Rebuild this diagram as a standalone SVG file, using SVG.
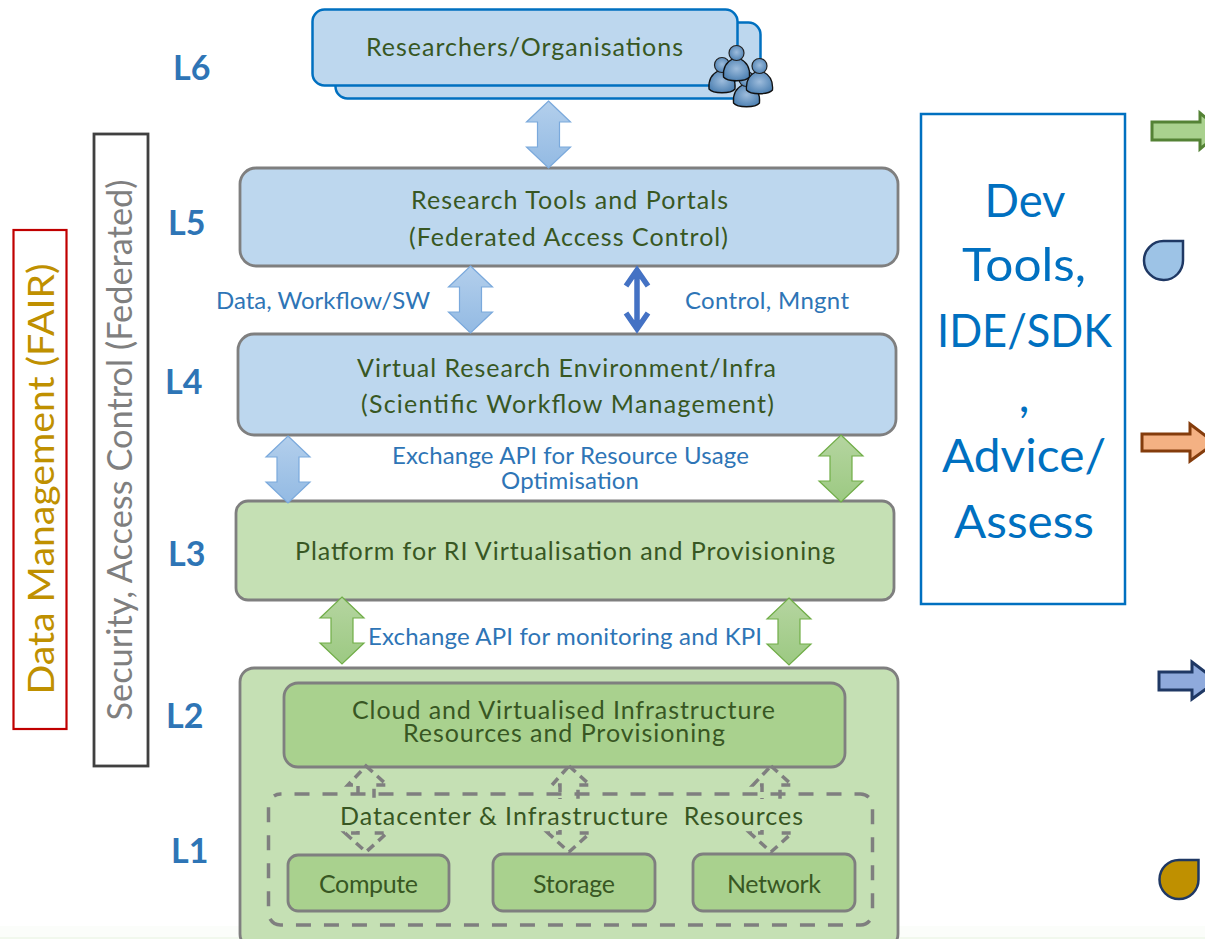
<svg xmlns="http://www.w3.org/2000/svg" xmlns:xlink="http://www.w3.org/1999/xlink" width="1205" height="939" viewBox="0 0 1205 939">
<style>
text{font-family:"Lato","Liberation Sans",sans-serif}
.box{stroke:#7f7f7f;stroke-width:2.800}
.blue{fill:#bdd7ee}.lgreen{fill:#c5e0b4}.green{fill:#a9d18e}
.t{font-size:25px;fill:#385723;text-anchor:middle}
.b{font-size:24px;fill:#2e75b6;text-anchor:middle}
.l{font-size:34px;font-weight:bold;fill:#2e75b6}
.dev{font-size:47px;fill:#0070c0;text-anchor:middle}
.dash{fill:none;stroke:#7f7f7f;stroke-width:3.500;stroke-dasharray:9 6}
.dashbox{fill:none;stroke:#7f7f7f;stroke-width:3.500;stroke-dasharray:15 13;stroke-dashoffset:14}
</style>
<defs>
<linearGradient id="gb" x1="0" y1="0" x2="0" y2="1"><stop offset="0" stop-color="#b3cfec"/><stop offset="1" stop-color="#93bae3"/></linearGradient>
<linearGradient id="gg" x1="0" y1="0" x2="0" y2="1"><stop offset="0" stop-color="#b5d5a0"/><stop offset="1" stop-color="#9cc982"/></linearGradient>
<radialGradient id="gp" cx="0.5" cy="0.45" r="0.6"><stop offset="0" stop-color="#9dbcdc"/><stop offset="1" stop-color="#4a7eb0"/></radialGradient>
<polygon id="dbl" points="0,0 22,21 11,21 11,46 22,46 0,67 -22,46 -11,46 -11,21 -22,21"/>
<g id="person">
<path d="M-13,24C-14,13-8,8-4,6L4,6C8,8 14,13 13,24C9,29-9,29-13,24Z" fill="url(#gp)" stroke="#111" stroke-width="1.300"/>
<circle r="7.500" fill="url(#gp)" stroke="#222" stroke-width="1.200"/>
</g>
</defs>
<rect width="1205" height="939" fill="#fff"/>
<rect y="926" width="1205" height="11" fill="#fbfdfa"/><rect y="937" width="1205" height="2" fill="#f1f8ed"/>
<g id="fair"><rect x="13.500" y="230" width="53" height="499" fill="#fff" stroke="#c00000" stroke-width="2.200"/>
<text transform="translate(54 479) rotate(-90)" text-anchor="middle" textLength="431" lengthAdjust="spacingAndGlyphs" style="font-size:36px;fill:#bf9000">Data Management (FAIR)</text></g>
<g id="security"><rect x="94" y="134" width="54" height="632" fill="#fff" stroke="#404040" stroke-width="2.800"/>
<text transform="translate(132 450) rotate(-90)" text-anchor="middle" textLength="541" lengthAdjust="spacingAndGlyphs" style="font-size:34px;fill:#7f7f7f">Security, Access Control (Federated)</text></g>
<g id="levels">
<text class="l" x="173" y="80">L6</text><text class="l" x="168" y="235">L5</text><text class="l" x="165" y="394">L4</text><text class="l" x="168" y="566">L3</text><text class="l" x="166" y="728">L2</text><text class="l" x="171" y="863">L1</text>
</g>
<g id="L6-researchers">
<rect x="335.500" y="22.500" width="425" height="76" rx="12" fill="#bdd7ee" stroke="#0070c0" stroke-width="2.500"/>
<rect x="312.500" y="9.500" width="425" height="76" rx="12" fill="#bdd7ee" stroke="#0070c0" stroke-width="2.500"/>
<text class="t" x="524.500" y="56" textLength="317">Researchers/Organisations</text>
<use href="#person" x="722" y="65"/><use href="#person" x="746.500" y="79"/><use href="#person" x="736.500" y="53"/><use href="#person" x="759.500" y="66"/>
</g>
<g id="L5-tools"><rect class="box blue" x="240" y="168" width="658" height="98" rx="16"/>
<text class="t" x="569.500" y="209" textLength="317">Research Tools and Portals</text><text class="t" x="568.500" y="246" textLength="319">(Federated Access Control)</text></g>
<g id="L4-vre"><rect class="box blue" x="238" y="334" width="658" height="101" rx="16"/>
<text class="t" x="566.500" y="377" textLength="419">Virtual Research Environment/Infra</text><text class="t" x="567.500" y="413" textLength="413">(Scientific Workflow Management)</text></g>
<g id="L3-platform"><rect class="box lgreen" x="236" y="501" width="658" height="99" rx="12"/>
<text class="t" x="565" y="560" textLength="540">Platform for RI Virtualisation and Provisioning</text></g>
<g id="L2-outer"><rect class="box lgreen" x="240" y="668" width="658" height="280" rx="14"/></g>
<g id="L2-cloud"><rect class="box green" x="284" y="683" width="561" height="84" rx="14"/>
<text class="t" x="563.500" y="719" textLength="423">Cloud and Virtualised Infrastructure</text><text class="t" x="564" y="742" textLength="322">Resources and Provisioning</text></g>
<g id="connectors">
<use href="#dbl" x="548.500" y="101" fill="url(#gb)" stroke="#7aa9dc" stroke-width="1.200"/>
<use href="#dbl" x="470.500" y="266" fill="url(#gb)" stroke="#7aa9dc" stroke-width="1.200"/>
<use href="#dbl" x="288" y="436" fill="url(#gb)" stroke="#7aa9dc" stroke-width="1.200"/>
<use href="#dbl" x="841" y="435" fill="url(#gg)" stroke="#70ad47" stroke-width="1.200"/>
<use href="#dbl" x="342" y="597" fill="url(#gg)" stroke="#70ad47" stroke-width="1.200"/>
<use href="#dbl" x="789" y="598" fill="url(#gg)" stroke="#70ad47" stroke-width="1.200"/>
<path d="M637,271V328M626,286L637,270L648,286M626,313L637,329L648,313" fill="none" stroke="#4472c4" stroke-width="5.500" stroke-linejoin="miter"/>
<path class="dash" d="M366,766L387,785H374V833H387L366,852L345,833H358V785H348Z"/>
<path class="dash" d="M569,766L590,785H578V833H590L569,852L548,833H560V785H552Z"/>
<path class="dash" d="M771,766L792,785H780V833H792L771,852L750,833H762V785H753Z"/>
</g>
<g id="L1-datacenter">
<rect x="340" y="799" width="465" height="31" fill="#c5e0b4"/>
<rect class="dashbox" x="268.500" y="794" width="604" height="131" rx="12"/>
<text class="t" x="571.500" y="825" textLength="463" xml:space="preserve">Datacenter &amp; Infrastructure  Resources</text>
</g>
<g id="compute"><rect class="box green" x="288" y="855" width="161" height="56" rx="10"/><text class="t" x="368.500" y="893" textLength="99">Compute</text></g>
<g id="storage"><rect class="box green" x="493" y="854" width="162" height="57" rx="10"/><text class="t" x="574" y="893" textLength="82">Storage</text></g>
<g id="network"><rect class="box green" x="693" y="854" width="162" height="57" rx="10"/><text class="t" x="774" y="893" textLength="94">Network</text></g>
<g id="labels">
<text class="b" x="323" y="309" textLength="214">Data, Workflow/SW</text>
<text class="b" x="767" y="309" textLength="164">Control, Mngnt</text>
<text class="b" x="570.500" y="464" textLength="357">Exchange API for Resource Usage</text>
<text class="b" x="570" y="489" textLength="138">Optimisation</text>
<text class="b" x="565" y="645" textLength="394">Exchange API for monitoring and KPI</text>
</g>
<g id="dev-tools"><rect x="921" y="114" width="204" height="490" fill="#fff" stroke="#0070c0" stroke-width="2.500"/>
<text class="dev" x="1025" y="217" textLength="81" lengthAdjust="spacingAndGlyphs">Dev</text><text class="dev" x="1024" y="281" textLength="124" lengthAdjust="spacingAndGlyphs">Tools,</text><text class="dev" x="1024.500" y="347" textLength="175" lengthAdjust="spacingAndGlyphs">IDE/SDK</text><text class="dev" x="1024" y="412">,</text><text class="dev" x="1024" y="472" textLength="164" lengthAdjust="spacingAndGlyphs">Advice/</text><text class="dev" x="1024" y="538" textLength="140" lengthAdjust="spacingAndGlyphs">Assess</text></g>
<g id="legend">
<path d="M1152,122H1200V113L1222,131L1200,149V140H1152Z" fill="#a9d18e" stroke="#548235" stroke-width="3"/>
<path d="M1183,241V260A19.500,19.500 0 1 1 1163.500,241Z" fill="#9dc3e6" stroke="#1f3864" stroke-width="2.500"/>
<path d="M1142,434H1190V424L1215,443L1190,461V451H1142Z" fill="#f4b183" stroke="#843c0c" stroke-width="3"/>
<path d="M1159,672H1192V662L1217,681L1192,699V690H1159Z" fill="#8faadc" stroke="#1f3864" stroke-width="3"/>
<path d="M1198.500,860V879.500A19.500,19.500 0 1 1 1179,860Z" fill="#bf9000" stroke="#1f3864" stroke-width="2.500"/>
</g>
</svg>
